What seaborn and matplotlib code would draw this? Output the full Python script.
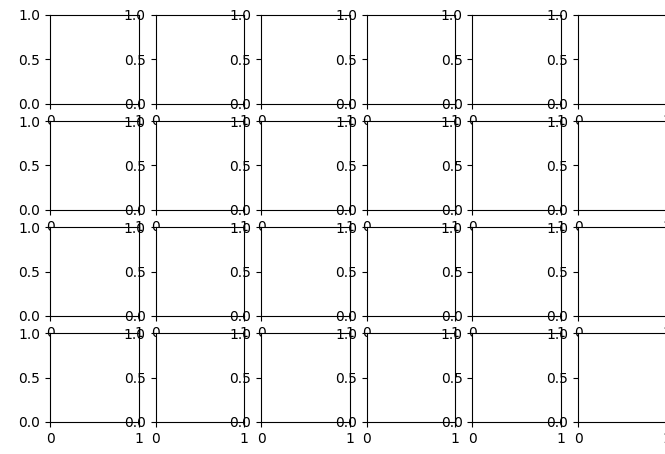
import matplotlib
matplotlib.use("Agg")
import matplotlib.pyplot as plt
import seaborn as sns

# grilla de paneles vacios
n_rows = 4
n_cols = 6
x_ticks = [0, 1]
y_ticks = [0.0, 0.5, 1.0]

sns.reset_orig()

fig, axes = plt.subplots(n_rows, n_cols, figsize=(6.65, 4.54), dpi=100)
fig.subplots_adjust(left=0.0752, right=1.0023, bottom=0.0705, top=0.967,
                    wspace=0.193, hspace=0.194)

for ax in axes.flat:
    ax.set_xlim(0, 1)
    ax.set_ylim(0, 1)
    ax.set_xticks(x_ticks)
    ax.set_yticks(y_ticks)

fig.savefig("out.png", dpi=100)
